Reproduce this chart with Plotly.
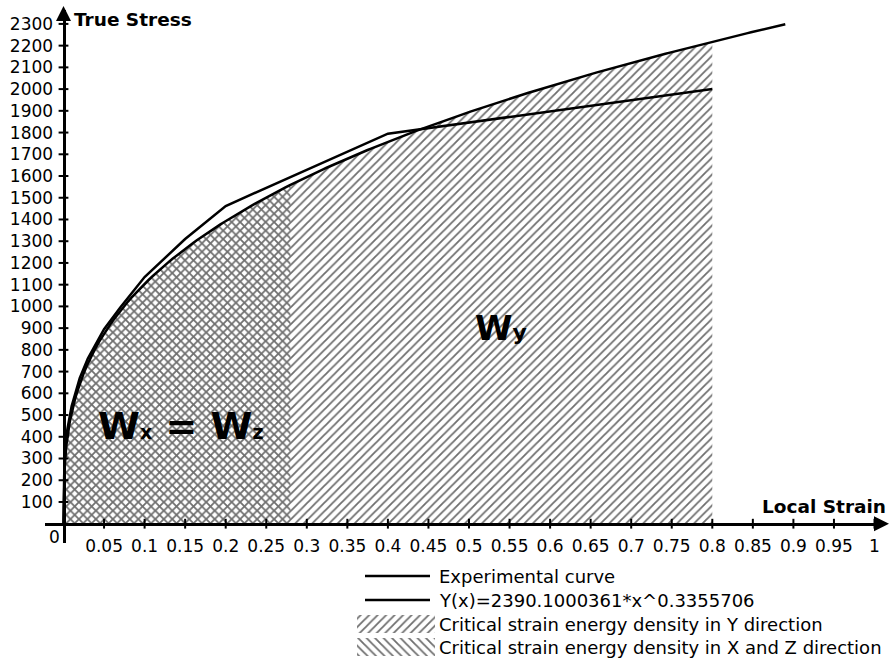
import numpy as np
import plotly.graph_objects as go

# ---- data -------------------------------------------------------------
# Experimental true stress - local strain curve
EXP_STRAIN = [0.0, 0.002, 0.005, 0.01, 0.02, 0.03, 0.05, 0.07, 0.10, 0.15, 0.20, 0.40, 0.80]
EXP_STRESS = [0, 360, 440, 540, 670, 760, 895, 995, 1135, 1310, 1462, 1795, 2000]

# Power-law fit  Y(x) = A * x^N
FIT_A = 2390.1000361
FIT_N = 0.3355706
FIT_STRAIN_END = 0.89

# Strain limits of the critical strain energy density areas
WY_STRAIN_END = 0.80
WXZ_STRAIN_END = 0.28

X_TICKS = [0.05, 0.10, 0.15, 0.20, 0.25, 0.30, 0.35, 0.40, 0.45, 0.50,
           0.55, 0.60, 0.65, 0.70, 0.75, 0.80, 0.85, 0.90, 0.95, 1.00]
X_TICK_TEXT = ["0.05", "0.1", "0.15", "0.2", "0.25", "0.3", "0.35", "0.4", "0.45", "0.5",
               "0.55", "0.6", "0.65", "0.7", "0.75", "0.8", "0.85", "0.9", "0.95", "1"]
Y_TICKS = [100, 200, 300, 400, 500, 600, 700, 800, 900, 1000, 1100, 1200,
           1300, 1400, 1500, 1600, 1700, 1800, 1900, 2000, 2100, 2200, 2300]

FIT_LABEL = f"Y(x)={FIT_A:.7f}*x^{FIT_N:.7f}"
LEGEND_TEXT = ["Experimental curve", FIT_LABEL,
               "Critical strain energy density in Y direction",
               "Critical strain energy density in X and Z direction"]

# ---- geometry (pixels of the 891 x 661 page) ---------------------------
W, H = 891, 661
X0_PX, X_SCALE = 63.5, 811.0        # strain 0 position, px per unit strain
Y0_PX, Y_SCALE = 523.7, 0.2173      # stress 0 position, px per unit stress
PLOT_L, PLOT_R, PLOT_T, PLOT_B = 45, 882, 10, 543

x_range = [-(X0_PX - PLOT_L) / X_SCALE, (PLOT_R - X0_PX) / X_SCALE]
y_range = [-(PLOT_B - Y0_PX) / Y_SCALE, (Y0_PX - PLOT_T) / Y_SCALE]


def px(xp):
    return xp / W


def py(yp):
    return (H - yp) / H


FONT = "DejaVu Sans"
HATCH = "#6f6f6f"


def fit(x):
    return FIT_A * np.power(x, FIT_N)


fit_x = np.unique(np.concatenate([[0.0], np.geomspace(1e-6, 0.05, 80),
                                  np.linspace(0.05, FIT_STRAIN_END, 200)]))
fit_y = fit(fit_x)


def area(end):
    xs = np.append(fit_x[fit_x < end], end)
    return xs, fit(xs)


wy_x, wy_y = area(WY_STRAIN_END)
wxz_x, wxz_y = area(WXZ_STRAIN_END)

fig = go.Figure()

# critical strain energy density areas
fig.add_trace(go.Scatter(
    x=wy_x, y=wy_y, mode="lines", line=dict(width=0), fill="tozeroy",
    fillcolor="rgba(0,0,0,0)",
    fillpattern=dict(shape="/", fgcolor=HATCH, bgcolor="rgba(0,0,0,0)", size=6, solidity=0.3),
    hoverinfo="skip", showlegend=False))
fig.add_trace(go.Scatter(
    x=wxz_x, y=wxz_y, mode="lines", line=dict(width=0), fill="tozeroy",
    fillcolor="rgba(0,0,0,0)",
    fillpattern=dict(shape="\\", fgcolor=HATCH, bgcolor="rgba(0,0,0,0)", size=6, solidity=0.3),
    hoverinfo="skip", showlegend=False))

# curves
fig.add_trace(go.Scatter(x=EXP_STRAIN, y=EXP_STRESS, mode="lines",
                         line=dict(color="black", width=2.5), showlegend=False))
fig.add_trace(go.Scatter(x=fit_x, y=fit_y, mode="lines",
                         line=dict(color="black", width=2.5), showlegend=False))

# tick marks crossing the axes
fig.add_trace(go.Scatter(x=X_TICKS, y=[0] * len(X_TICKS), mode="markers", cliponaxis=False,
                         marker=dict(symbol="line-ns", size=7, line=dict(color="black", width=2)),
                         hoverinfo="skip", showlegend=False))
fig.add_trace(go.Scatter(x=[0] * len(Y_TICKS), y=Y_TICKS, mode="markers", cliponaxis=False,
                         marker=dict(symbol="line-ew", size=7, line=dict(color="black", width=2)),
                         hoverinfo="skip", showlegend=False))

# ---- legend drawn on its own pixel-scaled axes -------------------------
LEG_TOP = 560
ROW_Y = [576, 600, 624, 647]
LINE_X = [365, 430]
SWATCH_X = [357, 435]
SWATCH_H = 18
TEXT_X = 437

for i in range(2):
    fig.add_trace(go.Scatter(x=LINE_X, y=[ROW_Y[i]] * 2, xaxis="x2", yaxis="y2", mode="lines",
                             line=dict(color="black", width=2.5), hoverinfo="skip",
                             showlegend=False))
for i, shape in ((2, "/"), (3, "\\")):
    y0, y1 = ROW_Y[i] - SWATCH_H / 2, ROW_Y[i] + SWATCH_H / 2
    fig.add_trace(go.Scatter(
        x=[SWATCH_X[0], SWATCH_X[1], SWATCH_X[1], SWATCH_X[0], SWATCH_X[0]],
        y=[y0, y0, y1, y1, y0], xaxis="x2", yaxis="y2", mode="lines",
        line=dict(width=0), fill="toself", fillcolor="rgba(0,0,0,0)",
        fillpattern=dict(shape=shape, fgcolor=HATCH, bgcolor="rgba(0,0,0,0)", size=6, solidity=0.3),
        hoverinfo="skip", showlegend=False))

annotations = []
for i, t in enumerate(LEGEND_TEXT):
    annotations.append(dict(x=TEXT_X, y=ROW_Y[i], xref="x2", yref="y2", text=t, showarrow=False,
                            xanchor="left", yanchor="middle",
                            font=dict(family=FONT, size=18, color="black")))

# axis titles, origin label and area labels
annotations += [
    dict(x=px(72), y=py(20), xref="paper", yref="paper", text="True Stress", showarrow=False,
         xanchor="left", yanchor="middle", font=dict(family=FONT, size=18.5, color="black", weight="bold")),
    dict(x=px(888), y=py(507), xref="paper", yref="paper", text="Local Strain", showarrow=False,
         xanchor="right", yanchor="middle", font=dict(family=FONT, size=18.5, color="black", weight="bold")),
    dict(x=px(54), y=py(537), xref="paper", yref="paper", text="0", showarrow=False,
         xanchor="center", yanchor="middle", font=dict(family=FONT, size=17, color="black")),
    dict(x=(501 - X0_PX) / X_SCALE, y=(Y0_PX - 328) / Y_SCALE, xref="x", yref="y",
         text="W<span style='font-size:22px'>y</span>", showarrow=False,
         xanchor="center", yanchor="middle", font=dict(family=FONT, size=34, color="black", weight="bold")),
    dict(x=(180 - X0_PX) / X_SCALE, y=(Y0_PX - 426) / Y_SCALE, xref="x", yref="y",
         text="W<span style='font-size:19px'>x</span> = W<span style='font-size:19px'>z</span>",
         showarrow=False, xanchor="center", yanchor="middle",
         font=dict(family=FONT, size=38, color="black", weight="bold")),
    # arrow heads at the ends of both axes
    dict(x=px(889), y=py(Y0_PX), xref="paper", yref="paper", ax=-14, ay=0, text="",
         showarrow=True, arrowhead=2, arrowsize=1.2, arrowwidth=2.5, arrowcolor="black"),
    dict(x=px(X0_PX), y=py(6), xref="paper", yref="paper", ax=0, ay=14, text="",
         showarrow=True, arrowhead=2, arrowsize=1.2, arrowwidth=2.5, arrowcolor="black"),
]

axis_common = dict(showgrid=False, zeroline=False, showline=True, linecolor="black", linewidth=3,
                   ticks="", automargin=False, tickfont=dict(family=FONT, size=17, color="black"))

fig.update_layout(
    width=W, height=H, margin=dict(l=0, r=0, t=0, b=0),
    paper_bgcolor="white", plot_bgcolor="rgba(0,0,0,0)", template="none",
    showlegend=False,
    xaxis=dict(domain=[px(PLOT_L), px(PLOT_R)], range=x_range, anchor="free", position=py(Y0_PX),
               tickmode="array", tickvals=X_TICKS, ticktext=X_TICK_TEXT, tickangle=0,
               ticklabelstandoff=6, **axis_common),
    yaxis=dict(domain=[py(PLOT_B), py(PLOT_T)], range=y_range, anchor="free", position=px(X0_PX),
               tickmode="array", tickvals=Y_TICKS, ticklabelstandoff=6, **axis_common),
    xaxis2=dict(domain=[0, 1], range=[0, W], visible=False, anchor="y2"),
    yaxis2=dict(domain=[0, py(LEG_TOP)], range=[H, LEG_TOP], visible=False, anchor="x2"),
    annotations=annotations,
)

fig.write_html("out.html")
